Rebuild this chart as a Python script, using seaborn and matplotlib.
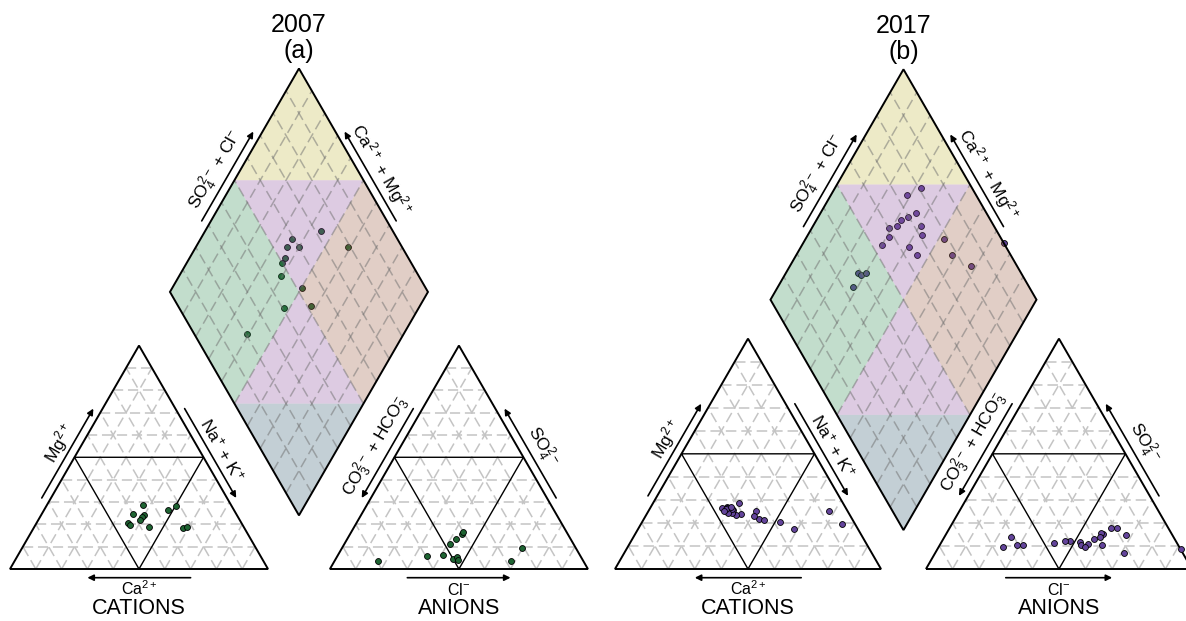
import numpy as np
import pandas as pd
import matplotlib
matplotlib.use("Agg")
import matplotlib.pyplot as plt
from matplotlib.patches import Polygon
import seaborn as sns

sns.set_theme(style="white")
plt.rcParams["font.family"] = ["Liberation Sans", "DejaVu Sans"]
plt.rcParams["text.color"] = "black"
plt.rcParams["mathtext.fontset"] = "custom"
plt.rcParams["mathtext.rm"] = "Liberation Sans"
plt.rcParams["mathtext.it"] = "Liberation Sans"
plt.rcParams["mathtext.sf"] = "Liberation Sans"
plt.rcParams["mathtext.default"] = "regular"

# ---- 2007 survey: major ions, % of meq/L ----
ca_2007   = [36.6, 39.9, 44.1, 35.9, 43.5, 34.2, 37.1, 21.6, 25.7, 23.7, 38.7, 21.9]
mg_2007   = [18.7, 24.8, 20.5, 24.3, 19.7, 28.7, 23.4, 28.3, 26.4, 18.4, 21.9, 18.9]
nak_2007  = [44.7, 35.3, 35.4, 39.8, 36.8, 37.1, 39.5, 50.1, 47.9, 57.9, 39.4, 59.2]
hco3_2007 = [28.0, 41.0, 44.5, 40.1, 47.9, 50.1, 53.2, 48.1, 59.5, 48.4, 79.5, 20.9]
so4_2007  = [3.7, 15.7, 13.3, 16.7, 11.3, 4.5, 6.1, 5.4, 5.7, 3.9, 3.6, 9.4]
cl_2007   = [68.3, 43.3, 42.2, 43.2, 40.8, 45.4, 40.7, 46.5, 34.8, 47.7, 16.9, 69.7]

# ---- 2017 survey: major ions, % of meq/L ----
ca_2017   = [39.1, 44.5, 40.6, 42.9, 43.0, 43.8, 44.5, 34.2, 43.0, 35.2, 45.5,
             36.3, 33.3, 27.7, 24.0, 7.1, 5.0, 46.7, 45.3, 42.8, 46.6]
mg_2017   = [28.8, 27.0, 23.7, 23.3, 25.5, 24.4, 26.5, 25.3, 26.0, 21.7, 24.2,
             23.1, 21.4, 20.3, 17.4, 25.0, 19.4, 26.3, 25.9, 27.0, 25.2]
nak_2017  = [32.1, 28.5, 35.7, 33.8, 31.5, 31.8, 29.0, 40.5, 31.0, 43.1, 30.3,
             40.6, 45.3, 52.0, 58.6, 67.9, 75.6, 27.0, 28.8, 30.2, 28.2]
hco3_2017 = [19.2, 26.0, 26.5, 30.2, 33.7, 36.3, 39.9, 27.6, 41.8, 28.8, 46.1,
             36.7, 35.4, 21.5, 21.9, 17.5, 0.0, 61.2, 60.4, 58.3, 66.2]
so4_2017  = [17.8, 15.2, 15.5, 12.9, 10.9, 11.6, 12.2, 13.8, 12.2, 10.4, 11.2,
             10.3, 9.4, 17.8, 7.1, 14.8, 8.6, 14.0, 10.4, 10.3, 9.4]
cl_2017   = [63.0, 58.8, 58.0, 56.9, 55.4, 52.1, 47.9, 58.6, 46.0, 60.8, 42.7,
             53.0, 55.2, 60.7, 71.0, 67.7, 91.4, 24.8, 29.2, 31.4, 24.4]

H = np.sqrt(3) / 2
FS_SIDE = 12.5
FS_ION = 11.5
FS_TITLE = 18
FS_GROUP = 15.5

REGION_FILLS = {
    "yellow": "#c6bc48",
    "purple": "#9155a2",
    "green": "#379158",
    "brown": "#9e5f44",
    "blue": "#3a6276",
}


def make_frame(ca, mg, nak, hco3, so4, cl):
    return pd.DataFrame({"Ca": ca, "Mg": mg, "NaK": nak,
                         "HCO3": hco3, "SO4": so4, "Cl": cl})


def dashed(ax, p, q, unit, color, lw, zorder, alpha=1.0):
    period = 0.058 * unit * 72 / 100.0      # dash period in points
    on, off = 0.68 * period / lw, 0.32 * period / lw
    ax.plot([p[0], q[0]], [p[1], q[1]], color=color, lw=lw, alpha=alpha,
            linestyle=(0, (on, off)), zorder=zorder,
            solid_capstyle="butt", dash_capstyle="butt")


def side_decor(ax, p0, p1, normal, unit, label, rot, forward=True,
               along=0.5, a_px=8.0, l_px=21.0):
    p0, p1, n = np.asarray(p0, float), np.asarray(p1, float), np.asarray(normal, float)
    d = p1 - p0
    s = p0 + 0.3 * d + n * a_px / unit
    e = p0 + 0.7 * d + n * a_px / unit
    if not forward:
        s, e = e, s
    ax.annotate("", xy=e, xytext=s,
                arrowprops=dict(arrowstyle="-|>", color="black", lw=1.2,
                                mutation_scale=9, shrinkA=0, shrinkB=0))
    c = p0 + along * d + n * l_px / unit
    ax.text(c[0], c[1], label, rotation=rot, rotation_mode="anchor",
            ha="center", va="center", fontsize=FS_SIDE)


def draw_triangle(ax, x0, unit):
    ax.add_patch(Polygon([(x0, 0), (x0 + 1, 0), (x0 + 0.5, H)], closed=True,
                         fill=False, ec="black", lw=1.4, zorder=5))
    ax.plot([x0 + 0.25, x0 + 0.75, x0 + 0.5, x0 + 0.25], [H / 2, H / 2, 0, H / 2],
            color="black", lw=1.0, zorder=5)
    grid = "#c4c4c4"
    for i in range(1, 10):
        if i == 5:
            continue
        f = i / 10
        dashed(ax, (x0 + f / 2, f * H), (x0 + 1 - f / 2, f * H), unit, grid, 1.1, 1)
        dashed(ax, (x0 + f, 0), (x0 + f + (1 - f) / 2, (1 - f) * H), unit, grid, 1.1, 1)
        dashed(ax, (x0 + f, 0), (x0 + f / 2, f * H), unit, grid, 1.1, 1)


def draw_panel(ax, unit, gap, df, color, year, tag):
    ax0 = 1 + gap
    B = np.array([1 + gap / 2, gap * H])
    u = np.array([-0.5, H])
    v = np.array([0.5, H])

    def dpt(cm, sc):
        return B + cm * u + sc * v

    # ---- point coordinates ----
    cat = pd.DataFrame({"x": df["NaK"] / 100 + df["Mg"] / 200,
                        "y": df["Mg"] / 100 * H})
    an = pd.DataFrame({"x": ax0 + df["Cl"] / 100 + df["SO4"] / 200,
                       "y": df["SO4"] / 100 * H})
    cm = 1 - df["NaK"] / 100
    sc = 1 - df["HCO3"] / 100
    dia = pd.DataFrame({"x": B[0] + 0.5 * (sc - cm), "y": B[1] + H * (cm + sc)})

    # ---- ternary plots ----
    draw_triangle(ax, 0.0, unit)
    draw_triangle(ax, ax0, unit)

    # ---- diamond with hydrochemical facies ----
    regions = [
        ("yellow", [(1, .5), (1, 1), (.5, 1)]),
        ("purple", [(1, .5), (.5, 1), (.5, .5)]),
        ("green", [(.5, 0), (1, 0), (1, .5), (.5, .5)]),
        ("brown", [(0, .5), (.5, .5), (.5, 1), (0, 1)]),
        ("purple", [(.5, 0), (.5, .5), (0, .5)]),
        ("blue", [(0, 0), (.5, 0), (0, .5)]),
    ]
    for key, corners in regions:
        ax.add_patch(Polygon([dpt(a, b) for a, b in corners], closed=True,
                             fc=REGION_FILLS[key], ec="none", alpha=0.3, zorder=3))
    for i in range(1, 10):
        f = i / 10
        dashed(ax, dpt(f, 0), dpt(f, 1), unit, "#6f6f6f", 1.1, 4, alpha=0.5)
        dashed(ax, dpt(0, f), dpt(1, f), unit, "#6f6f6f", 1.1, 4, alpha=0.5)
    ax.add_patch(Polygon([dpt(0, 0), dpt(1, 0), dpt(1, 1), dpt(0, 1)], closed=True,
                         fill=False, ec="black", lw=1.4, zorder=5))

    # ---- samples ----
    kw = dict(color=color, s=18, edgecolor="black", linewidth=0.6, legend=False)
    sns.scatterplot(data=cat, x="x", y="y", ax=ax, zorder=6, **kw)
    sns.scatterplot(data=an, x="x", y="y", ax=ax, zorder=6, **kw)
    sns.scatterplot(data=dia, x="x", y="y", ax=ax, zorder=2, **kw)

    # ---- axis annotations ----
    nl = (-H, 0.5)
    nr = (H, 0.5)
    side_decor(ax, (0, 0), (0.5, H), nl, unit, r"Mg$^{2+}$", 60, along=0.52,
               l_px=20)
    side_decor(ax, (1, 0), (0.5, H), nr, unit, r"Na$^{+}$ + K$^{+}$", -60,
               forward=False, along=0.49, l_px=20)
    side_decor(ax, (ax0, 0), (ax0 + 0.5, H), nl, unit,
               r"CO$_3^{2-}$ + HCO$_3^{-}$", 60, forward=False, along=0.5,
               l_px=22)
    side_decor(ax, (ax0 + 1, 0), (ax0 + 0.5, H), nr, unit, r"SO$_4^{2-}$", -60,
               along=0.5, l_px=22)
    L, T, R = dpt(1, 0), dpt(1, 1), dpt(0, 1)
    side_decor(ax, L, T, nl, unit, r"SO$_4^{2-}$ + Cl$^{-}$", 60, along=0.5,
               l_px=22)
    side_decor(ax, R, T, nr, unit, r"Ca$^{2+}$ + Mg$^{2+}$", -60, along=0.5,
               l_px=21)

    for x0, name, ion, left in [(0.0, "CATIONS", r"Ca$^{2+}$", True),
                                (ax0, "ANIONS", r"Cl$^{-}$", False)]:
        yb = -8.7 / unit
        s, e = (x0 + 0.7, yb), (x0 + 0.3, yb)
        if not left:
            s, e = e, s
        ax.annotate("", xy=e, xytext=s,
                    arrowprops=dict(arrowstyle="-|>", color="black", lw=1.2,
                                    mutation_scale=9, shrinkA=0, shrinkB=0))
        ax.text(x0 + 0.5, -26 / unit, ion, ha="center", va="baseline",
                fontsize=FS_ION)
        ax.text(x0 + 0.5, -45 / unit, name, ha="center", va="baseline",
                fontsize=FS_GROUP)

    top = T[1]
    ax.text(T[0], top + 36.5 / unit, year, ha="center", va="baseline",
            fontsize=FS_TITLE)
    ax.text(T[0], top + 10.5 / unit, tag, ha="center", va="baseline",
            fontsize=FS_TITLE)


W, Hpx = 1186, 621
fig = plt.figure(figsize=(W / 100, Hpx / 100), dpi=100)

panels = [
    # (axes left px, base-left origin px, base y px, unit px, gap, data, colour, year, tag)
    (0, 10, 569, 258.0, 0.24, make_frame(ca_2007, mg_2007, nak_2007, hco3_2007, so4_2007, cl_2007),
     "#1e6432", "2007", "(a)"),
    (593, 615, 569, 266.0, 0.169, make_frame(ca_2017, mg_2017, nak_2017, hco3_2017, so4_2017, cl_2017),
     "#63449b", "2017", "(b)"),
]

for left, ox, oy, unit, gap, df, color, year, tag in panels:
    ax = fig.add_axes([left / W, 0, 593 / W, 1])
    draw_panel(ax, unit, gap, df, color, year, tag)
    ax.set_xlim((left - ox) / unit, (left + 593 - ox) / unit)
    ax.set_ylim((oy - Hpx) / unit, oy / unit)
    ax.set_axis_off()

fig.savefig("out.png", dpi=100)
